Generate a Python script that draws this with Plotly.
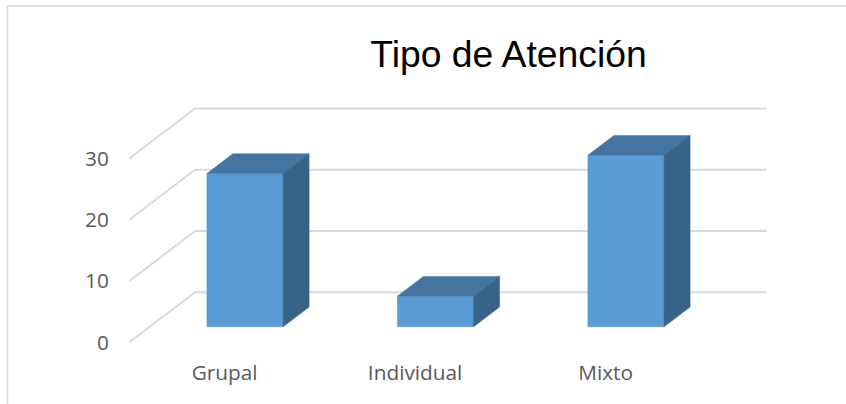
import plotly.graph_objects as go

categories = ["Grupal", "Individual", "Mixto"]
values = [25, 5, 28]
y_ticks = [0, 10, 20, 30]

# fake 3D: depth 0 is the front of the floor, depth 1 is the back wall
DEPTH_X = 0.345
DEPTH_Y = 8.16
BAR_WIDTH = 0.40
BAR_FRONT = 0.31
BAR_BACK = 0.706

GRID_COLOR = "#D9D9D9"
FRONT_COLOR = "#5B9BD5"
TOP_COLOR = "#44749F"
SIDE_COLOR = "#376389"


def project(x, value, depth):
    return x + depth * DEPTH_X, value + depth * DEPTH_Y


def polygon(corners, color):
    points = [project(*c) for c in corners]
    points.append(points[0])
    return go.Scatter(
        x=[p[0] for p in points],
        y=[p[1] for p in points],
        mode="lines",
        fill="toself",
        fillcolor=color,
        line=dict(color=color, width=0.5),
        hoverinfo="skip",
        showlegend=False,
    )


fig = go.Figure()

# Oblique floor-to-wall gridlines
grid_x, grid_y = [], []
for tick in y_ticks:
    for corner in [(-0.5, tick, 0), (-0.5, tick, 1), (2.5, tick, 1)]:
        px, py = project(*corner)
        grid_x.append(px)
        grid_y.append(py)
    grid_x.append(None)
    grid_y.append(None)

fig.add_trace(
    go.Scatter(
        x=grid_x,
        y=grid_y,
        mode="lines",
        line=dict(color=GRID_COLOR, width=2),
        hoverinfo="skip",
        showlegend=False,
    )
)

# Bars
for i, val in enumerate(values):
    left = i - BAR_WIDTH / 2
    right = i + BAR_WIDTH / 2
    fig.add_trace(polygon(
        [(left, 0, BAR_FRONT), (right, 0, BAR_FRONT), (right, val, BAR_FRONT), (left, val, BAR_FRONT)],
        FRONT_COLOR,
    ))
    fig.add_trace(polygon(
        [(left, val, BAR_FRONT), (right, val, BAR_FRONT), (right, val, BAR_BACK), (left, val, BAR_BACK)],
        TOP_COLOR,
    ))
    fig.add_trace(polygon(
        [(right, 0, BAR_FRONT), (right, 0, BAR_BACK), (right, val, BAR_BACK), (right, val, BAR_FRONT)],
        SIDE_COLOR,
    ))

fig.update_layout(
    width=846,
    height=404,
    margin=dict(l=115, r=40, t=20, b=49),
    paper_bgcolor="white",
    plot_bgcolor="white",
    title=dict(
        text="Tipo de Atención",
        font=dict(family="Liberation Sans", size=37.3, color="#000000"),
        x=508.5 / 846,
        xanchor="center",
        y=1 - 54 / 404,
        yanchor="middle",
    ),
    xaxis=dict(
        range=[-0.5753, 3.052],
        tickvals=[0, 1, 2],
        ticktext=categories,
        showgrid=False,
        zeroline=False,
        showline=False,
        ticks="",
        ticklabelstandoff=3,
        tickfont=dict(family="Open Sans", size=20.8, color="#595959"),
    ),
    yaxis=dict(
        range=[-2.07, 52.6],
        tickvals=y_ticks,
        showgrid=False,
        zeroline=False,
        showline=False,
        ticks="outside",
        ticklen=1,
        tickcolor="white",
        tickfont=dict(family="Open Sans", size=20.8, color="#595959"),
    ),
    # outer chart frame, top and left edges only
    shapes=[
        dict(type="line", xref="paper", yref="paper", x0=-0.1556, x1=1.058, y0=1.042, y1=1.042,
             line=dict(color=GRID_COLOR, width=1.5)),
        dict(type="line", xref="paper", yref="paper", x0=-0.1556, x1=-0.1556, y0=1.042, y1=-0.146,
             line=dict(color=GRID_COLOR, width=1.5)),
    ],
)

fig.write_html(
    "out.html",
    config={"displayModeBar": False},
    post_script="document.body.style.margin='0';",
)
